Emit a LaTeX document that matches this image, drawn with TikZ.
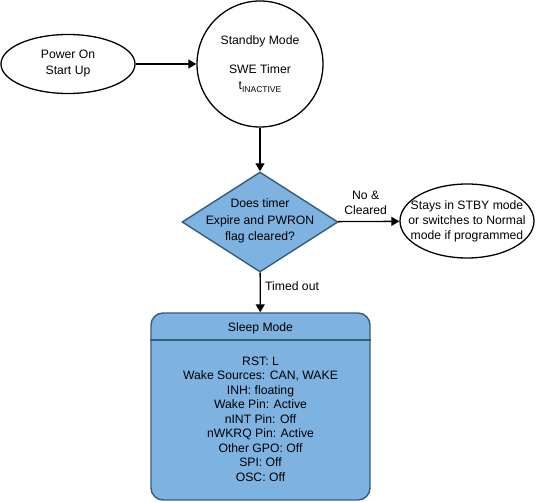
\documentclass[tikz,border=0pt]{standalone}
\usepackage{fontspec}
\setmainfont{Liberation Sans}
\usepackage{xcolor}
\usetikzlibrary{arrows.meta,shapes.geometric}

\definecolor{modeblue}{RGB}{126,178,225}
\definecolor{modeedge}{RGB}{52,92,124}

\tikzset{
	flow/.style={line width=1.3pt, -{Triangle[length=8pt,width=9pt]}},
	startoval/.style={ellipse, draw, line width=1.3pt, minimum width=134pt, minimum height=59pt, inner sep=0pt, align=center},
	statecircle/.style={circle, draw, line width=1.3pt, minimum size=126pt, inner sep=0pt, align=center},
	decision/.style={diamond, draw=modeedge, fill=modeblue, line width=1.4pt, minimum width=156pt, minimum height=100pt, inner sep=0pt},
	modebox/.style={draw=modeedge, fill=modeblue, line width=1.4pt, rounded corners=12pt, minimum width=219pt, minimum height=187pt, inner sep=0pt}
}

\begin{document}
\begin{tikzpicture}[x=1pt, y=-1pt, font=\fontsize{12.2}{16}\selectfont]
	\useasboundingbox (0,0) rectangle (536,502);

	\node[startoval] (power) at (68,64) {Power On\\Start Up};
	\node[statecircle] (standby) at (260,64) {Standby Mode\\[13pt]SWE Timer\\t\raisebox{-0.45ex}{\fontsize{8.5}{9}\selectfont INACTIVE}};
	\node[decision] (check) at (260,222) {};
	\node[align=center, font=\fontsize{12.2}{16.5}\selectfont] (checktext) at (260,221) {Does timer\\Expire and PWRON\\flag cleared?};
	\node[startoval, minimum width=134pt, minimum height=74pt] (stays) at (467,221) {};
	\node[align=center, font=\fontsize{12.2}{15}\selectfont] (staystext) at (467,221) {Stays in STBY mode\\or switches to Normal\\mode if programmed};
	\node[modebox] (sleep) at (260.5,406.5) {};
	\node (sleeptitle) at (260.5,328) {Sleep Mode};
	\node[align=center, font=\fontsize{12.2}{14.5}\selectfont] (sleepinfo) at (260.5,419) {RST: L\\Wake Sources: CAN, WAKE\\INH: floating\\Wake Pin: Active\\nINT Pin: Off\\nWKRQ Pin: Active\\Other GPO: Off\\SPI: Off\\OSC: Off};

	\draw[modeedge, line width=1.4pt] (sleep.west |- 0,340) -- (sleep.east |- 0,340);

	\draw[flow] (power) -- (standby);
	\draw[flow] (standby) -- (check);
	\draw[flow] (check) -- node[above, align=center, pos=0.45, yshift=3pt, font=\fontsize{12.2}{14.5}\selectfont] {No \&\\Cleared} (stays);
	\draw[flow] (check) -- node[right, pos=0.35, xshift=1pt] {Timed out} (sleep);
\end{tikzpicture}
\end{document}
